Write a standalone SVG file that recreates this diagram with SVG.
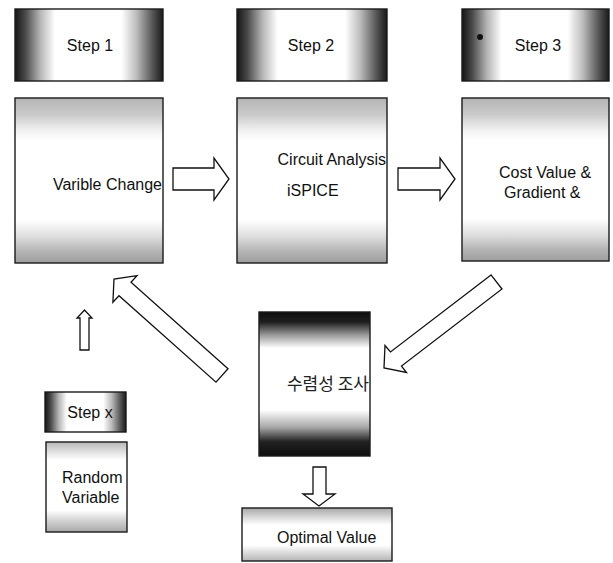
<svg xmlns="http://www.w3.org/2000/svg" width="613" height="563" viewBox="0 0 613 563">
<style>
.box{stroke:#1a1a1a;stroke-width:1.4}
.lbl{font-family:"Liberation Sans",Arial,sans-serif;font-size:16px;fill:#111}
.kr{font-family:"Noto Sans CJK KR","Noto Sans",sans-serif;font-size:17px;fill:#222}
.arr{fill:#fff;stroke:#111;stroke-width:1.3;stroke-linejoin:miter}
</style>
<defs>
<linearGradient id="gStep" x1="0" y1="0" x2="1" y2="0">
<stop offset="0" stop-color="#151515"/>
<stop offset="0.07" stop-color="#4a4a4a"/>
<stop offset="0.17" stop-color="#b5b5b5"/>
<stop offset="0.27" stop-color="#fff"/>
<stop offset="0.72" stop-color="#fff"/>
<stop offset="0.82" stop-color="#bdbdbd"/>
<stop offset="0.93" stop-color="#555"/>
<stop offset="1" stop-color="#1a1a1a"/>
</linearGradient>
<linearGradient id="gBig" x1="0" y1="0" x2="0" y2="1">
<stop offset="0" stop-color="#b4b4b4"/>
<stop offset="0.1" stop-color="#cacaca"/>
<stop offset="0.2" stop-color="#f2f2f2"/>
<stop offset="0.26" stop-color="#fff"/>
<stop offset="0.74" stop-color="#fff"/>
<stop offset="0.84" stop-color="#dedede"/>
<stop offset="0.93" stop-color="#b4b4b4"/>
<stop offset="1" stop-color="#9e9e9e"/>
</linearGradient>
<linearGradient id="gConv" x1="0" y1="0" x2="0" y2="1">
<stop offset="0" stop-color="#0d0d0d"/>
<stop offset="0.07" stop-color="#1e1e1e"/>
<stop offset="0.16" stop-color="#9a9a9a"/>
<stop offset="0.25" stop-color="#fff"/>
<stop offset="0.68" stop-color="#fff"/>
<stop offset="0.8" stop-color="#a8a8a8"/>
<stop offset="0.9" stop-color="#222"/>
<stop offset="1" stop-color="#0d0d0d"/>
</linearGradient>
<linearGradient id="gSmall" x1="0" y1="0" x2="0" y2="1">
<stop offset="0" stop-color="#b8b8b8"/>
<stop offset="0.12" stop-color="#e4e4e4"/>
<stop offset="0.2" stop-color="#fff"/>
<stop offset="0.76" stop-color="#fff"/>
<stop offset="0.88" stop-color="#d0d0d0"/>
<stop offset="1" stop-color="#a8a8a8"/>
</linearGradient>
<linearGradient id="gOpt" x1="0" y1="0" x2="0" y2="1">
<stop offset="0" stop-color="#a8a8a8"/>
<stop offset="0.18" stop-color="#dadada"/>
<stop offset="0.32" stop-color="#fff"/>
<stop offset="0.7" stop-color="#fff"/>
<stop offset="1" stop-color="#b5b5b5"/>
</linearGradient>
</defs>

<g id="step1"><rect class="box" x="15" y="9" width="148" height="72" fill="url(#gStep)"/><text class="lbl" x="90" y="51" text-anchor="middle">Step 1</text></g>
<g id="step2"><rect class="box" x="237" y="9" width="150" height="72" fill="url(#gStep)"/><text class="lbl" x="311" y="51" text-anchor="middle">Step 2</text></g>
<g id="step3"><rect class="box" x="462" y="9" width="147" height="72" fill="url(#gStep)"/><circle cx="480" cy="37" r="3" fill="#111"/><text class="lbl" x="538" y="51" text-anchor="middle">Step 3</text></g>

<g id="varible-change"><rect class="box" x="15" y="98" width="148" height="165" fill="url(#gBig)"/><text class="lbl" x="162" y="190" text-anchor="end">Varible Change</text></g>
<g id="circuit-analysis"><rect class="box" x="237" y="98" width="150" height="165" fill="url(#gBig)"/><text class="lbl" x="386" y="165" text-anchor="end">Circuit Analysis</text><text class="lbl" x="287" y="196">iSPICE</text></g>
<g id="cost-value"><rect class="box" x="462" y="98" width="147" height="163" fill="url(#gBig)"/><text class="lbl" x="499" y="178">Cost Value &amp;</text><text class="lbl" x="504" y="198">Gradient &amp;</text></g>

<g id="step-x"><rect class="box" x="45" y="392" width="81" height="40" fill="url(#gStep)"/><text class="lbl" x="90" y="418" text-anchor="middle">Step x</text></g>
<g id="random-variable"><rect class="box" x="46" y="442" width="81" height="90" fill="url(#gSmall)"/><text class="lbl" x="62" y="483">Random</text><text class="lbl" x="62" y="503">Variable</text></g>

<g id="convergence"><rect class="box" x="259" y="312" width="111" height="144" fill="url(#gConv)"/><text class="kr" x="369" y="390" text-anchor="end">수렴성 조사</text></g>
<g id="optimal-value"><rect class="box" x="242" y="508" width="150" height="53" fill="url(#gOpt)"/><text class="lbl" x="277" y="543">Optimal Value</text></g>

<g id="connectors">
<polygon class="arr" points="173,168 214,168 214,158 229,179 214,200 214,190 173,190"/>
<polygon class="arr" points="398,168 440,168 440,158 455,179 440,200 440,190 398,190"/>
<polygon class="arr" points="228,368.8 131,282.3 137,275.7 114,279 112.9,302.3 119,295.7 216,382.2"/>
<polygon class="arr" points="491,274.9 390.5,351.9 385,345.5 384,368 406.5,372.5 401.5,366.1 502,289"/>
<polygon class="arr" points="80,350 80,318 77,318 84.5,310 92,318 89,318 89,350"/>
<polygon class="arr" points="313,467 326,467 326,494 335,494 319,506 303,494 313,494"/>
</g>
</svg>
